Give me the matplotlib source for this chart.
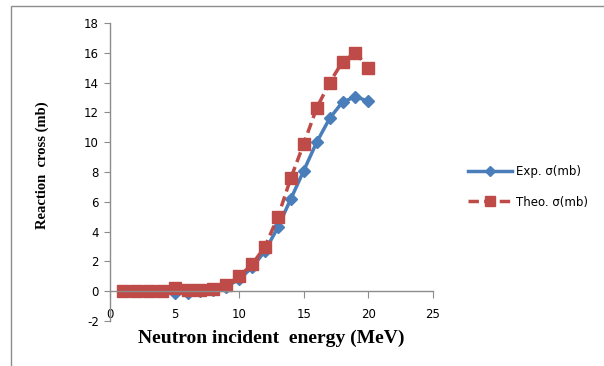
import matplotlib
matplotlib.use("Agg")
import matplotlib.pyplot as plt
from matplotlib.patches import Rectangle

plt.rcParams["axes.unicode_minus"] = False

energy = [1, 2, 3, 4, 5, 6, 7, 8, 9, 10, 11, 12, 13, 14, 15, 16, 17, 18, 19, 20]
exp_sigma = [0, 0, 0, 0, -0.1, -0.1, 0, 0.05, 0.3, 0.8, 1.6, 2.7, 4.3, 6.2, 8.1, 10.0, 11.6, 12.7, 13.05, 12.75]
theo_sigma = [0, 0, 0, 0, 0.2, 0.07, 0.07, 0.18, 0.4, 1.0, 1.8, 3.0, 5.0, 7.6, 9.9, 12.3, 14.0, 15.4, 16.0, 15.0]

W, H = 604, 366
fig = plt.figure(figsize=(W / 100, H / 100), dpi=100)

# outer frame
fig.patches.append(Rectangle((11 / W, -0.1), 1.2, (H - 6) / H + 0.1, transform=fig.transFigure,
                             fill=False, edgecolor="#8c8c8c", linewidth=1.0, clip_on=False))

ax = fig.add_axes([110 / W, (H - 321) / H, 323 / W, 298 / H])
blue = "#4A7EBB"
red = "#BE4B48"
ax.plot(energy, exp_sigma, color=blue, lw=2.5, marker="D", markersize=6, label="Exp. σ(mb)")
ax.plot(energy, theo_sigma, color=red, lw=2.5, ls=(0, (3, 1.5)), marker="s", markersize=8,
        label="Theo. σ(mb)")

ax.set_xlim(0, 25)
ax.set_ylim(-2, 18)
ax.set_xticks(range(0, 26, 5))
ax.set_yticks(range(-2, 19, 2))
for s in ["top", "right"]:
    ax.spines[s].set_visible(False)
ax.spines["bottom"].set_position(("data", 0))
for s in ["left", "bottom"]:
    ax.spines[s].set_color("#8c8c8c")
    ax.spines[s].set_linewidth(1.0)
ax.tick_params(axis="y", direction="out", length=4, color="#8c8c8c", labelsize=8.5, pad=4)
ax.tick_params(axis="x", direction="out", length=5, color="#8c8c8c", labelsize=8.5, pad=7)

ax.set_xlabel("Neutron incident  energy (MeV)", family="Liberation Serif", fontweight="bold",
              fontsize=14)
ax.xaxis.set_label_coords(161 / 323, -(338 - 321) / 298)
ax.xaxis.label.set_va("center")

ax.set_ylabel("Reaction  cross (mb)", family="Liberation Serif", fontweight="bold", fontsize=10.5)
ax.yaxis.set_label_coords(-(110 - 42) / 323, (321 - 165) / 298)
ax.yaxis.label.set_va("center")

leg = ax.legend(loc="center left", bbox_to_anchor=(457 / W, 1 - 187 / H), bbox_transform=fig.transFigure,
                frameon=False, fontsize=8.5, handlelength=3.8, labelspacing=1.45, handletextpad=0.3,
                markerscale=0.85)

fig.savefig("out.png", dpi=100)
